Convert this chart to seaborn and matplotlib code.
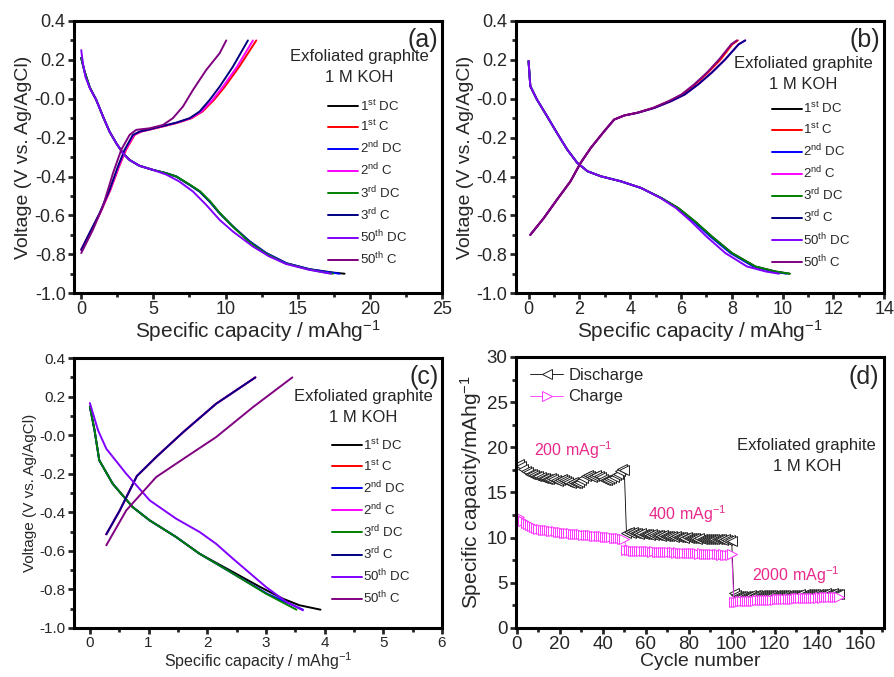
import numpy as np
import pandas as pd
import matplotlib
matplotlib.use("Agg")
import matplotlib.pyplot as plt
import seaborn as sns
from matplotlib.ticker import AutoMinorLocator

# ---- datos panel (a) ----
a_dc1_x = [0, 0.23, 0.58, 1.04, 1.5, 1.96, 2.43, 2.89, 3.35, 4.04, 4.97, 5.89, 6.58, 7.51, 8.2, 8.9, 9.59, 10.51, 11.67, 12.82, 14.21, 15.83, 17.44, 18.25]
a_dc1_y = [0.21, 0.14, 0.06, -0.006, -0.09, -0.169, -0.229, -0.28, -0.315, -0.345, -0.366, -0.383, -0.40, -0.443, -0.477, -0.529, -0.589, -0.657, -0.734, -0.794, -0.846, -0.877, -0.894, -0.90]
a_dc2_x = [0, 0.23, 0.58, 1.04, 1.5, 1.96, 2.43, 2.89, 3.35, 4.04, 4.97, 5.89, 6.58, 7.51, 8.2, 8.9, 9.59, 10.51, 11.67, 12.82, 14.21, 15.83, 17.3, 17.9]
a_dc3_x = [0, 0.23, 0.58, 1.04, 1.5, 1.96, 2.43, 2.89, 3.35, 4.04, 4.97, 5.89, 6.6, 7.55, 8.25, 8.95, 9.62, 10.5, 11.6, 12.75, 14.1, 15.7, 16.9, 17.45]
a_dc50_x = [0, 0.12, 0.3, 0.62, 1.04, 1.5, 1.96, 2.43, 2.89, 3.35, 4.04, 4.97, 5.89, 6.8, 7.74, 8.66, 9.59, 10.51, 11.9, 13.0, 14.2, 15.8, 17.3]
a_dc50_y = [0.25, 0.18, 0.11, 0.05, -0.006, -0.09, -0.169, -0.229, -0.28, -0.315, -0.345, -0.366, -0.39, -0.426, -0.477, -0.546, -0.623, -0.683, -0.76, -0.81, -0.85, -0.88, -0.90]
a_c_y = [-0.777, -0.69, -0.589, -0.469, -0.349, -0.263, -0.186, -0.169, -0.157, -0.14, -0.123, -0.10, -0.066, -0.006, 0.062, 0.165, 0.30]
a_c1_x = [0, 0.6, 1.3, 2.02, 2.62, 3.1, 3.7, 4.15, 4.85, 5.8, 6.7, 7.65, 8.4, 9.2, 9.95, 10.95, 12.13]
a_c2_x = [0, 0.6, 1.3, 2.0, 2.6, 3.07, 3.66, 4.12, 4.8, 5.75, 6.65, 7.6, 8.33, 9.1, 9.82, 10.8, 11.9]
a_c3_x = [0, 0.58, 1.27, 1.96, 2.54, 3.0, 3.58, 4.04, 4.74, 5.66, 6.58, 7.51, 8.2, 8.9, 9.59, 10.51, 11.55]
a_c50_x = [0, 0.81, 1.5, 2.2, 2.77, 3.35, 3.81, 4.74, 5.66, 6.35, 7.05, 7.74, 8.66, 9.59, 10.05]
a_c50_y = [-0.794, -0.674, -0.554, -0.383, -0.263, -0.186, -0.16, -0.152, -0.135, -0.10, -0.04, 0.045, 0.148, 0.234, 0.30]

# ---- datos panel (b) ----
b_dc_x = [0, 0.07, 0.33, 0.73, 1.12, 1.52, 1.92, 2.32, 2.85, 3.64, 4.43, 5.23, 5.89, 6.55, 7.21, 8.01, 8.93, 9.73, 10.28]
b_dc_y = [0.194, 0.065, -0.004, -0.09, -0.176, -0.261, -0.33, -0.373, -0.399, -0.425, -0.459, -0.511, -0.562, -0.631, -0.708, -0.794, -0.863, -0.889, -0.90]
b_dc2_x = [0, 0.07, 0.33, 0.73, 1.12, 1.52, 1.92, 2.32, 2.85, 3.64, 4.43, 5.23, 5.87, 6.5, 7.15, 7.95, 8.85, 9.65, 10.15]
b_dc50_x = [0, 0.07, 0.33, 0.73, 1.12, 1.52, 1.92, 2.32, 2.85, 3.64, 4.43, 5.2, 5.8, 6.4, 7.0, 7.75, 8.6, 9.35, 9.86]
b_c_x = [0.07, 0.6, 1.12, 1.65, 2.05, 2.45, 2.98, 3.37, 3.77, 4.3, 4.96, 5.62, 6.15, 6.68, 7.21, 7.74, 8.27, 8.53]
b_c_y = [-0.70, -0.614, -0.519, -0.425, -0.33, -0.253, -0.167, -0.107, -0.086, -0.072, -0.047, -0.012, 0.022, 0.074, 0.134, 0.202, 0.28, 0.30]
b_c1_x = [0.07, 0.6, 1.12, 1.65, 2.05, 2.45, 2.98, 3.37, 3.77, 4.28, 4.92, 5.55, 6.06, 6.56, 7.06, 7.56, 8.02, 8.24]
b_c50_x = [0.07, 0.6, 1.12, 1.65, 2.05, 2.45, 2.98, 3.37, 3.77, 4.28, 4.9, 5.52, 6.02, 6.52, 7.02, 7.5, 7.98, 8.2]

# ---- datos panel (c) ----
c_dc_x = [0, 0.08, 0.16, 0.39, 0.73, 1.02, 1.47, 1.87, 2.44, 3.0, 3.52]
c_dc_y = [0.149, 0.025, -0.13, -0.252, -0.373, -0.442, -0.528, -0.615, -0.718, -0.822, -0.905]
c_dc1_x = [0, 0.08, 0.16, 0.39, 0.73, 1.02, 1.47, 1.87, 2.44, 2.9, 3.29, 3.57, 3.93]
c_dc1_y = [0.149, 0.025, -0.13, -0.252, -0.373, -0.442, -0.528, -0.615, -0.71, -0.787, -0.848, -0.882, -0.905]
c_dc2_x = [0, 0.08, 0.16, 0.39, 0.73, 1.02, 1.47, 1.87, 2.44, 3.02, 3.63]
c_dc50_x = [0, 0.14, 0.28, 0.62, 1.02, 1.47, 1.87, 2.15, 2.44, 3.0, 3.35, 3.63]
c_dc50_y = [0.167, 0.025, -0.07, -0.2, -0.338, -0.433, -0.502, -0.563, -0.641, -0.787, -0.865, -0.908]
c_c_x = [0.28, 0.51, 0.8, 1.13, 1.59, 2.15, 2.82]
c_c_y = [-0.514, -0.39, -0.212, -0.113, 0.016, 0.163, 0.30]
c_c50_x = [0.28, 0.62, 1.13, 1.64, 2.15, 2.78, 3.45]
c_c50_y = [-0.571, -0.39, -0.217, -0.113, -0.01, 0.146, 0.30]

# ---- datos panel (d) ----
cycles = list(range(1, 151))
discharge = [
    18.2, 17.9, 17.6, 17.4, 17.3, 17.1, 17.0, 16.9, 16.8, 16.8,
    16.7, 16.6, 16.6, 16.5, 16.5, 16.6, 16.5, 16.4, 16.3, 16.4,
    16.5, 16.4, 16.3, 16.2, 16.1, 16.2, 16.1, 16.0, 16.2, 16.4,
    16.6, 16.8, 16.9, 16.8, 16.7, 16.8, 16.9, 16.8, 16.7, 16.5,
    16.4, 16.4, 16.5, 16.6, 16.7, 16.9, 17.1, 17.4, 17.6, 17.5,
    10.5, 10.6, 10.5, 10.6, 10.5, 10.5, 10.4, 10.5, 10.4, 10.4,
    10.4, 10.3, 10.4, 10.3, 10.3, 10.3, 10.2, 10.3, 10.2, 10.2,
    10.2, 10.2, 10.1, 10.2, 10.1, 10.1, 10.1, 10.0, 10.1, 10.0,
    10.0, 10.0, 10.0, 9.9, 10.0, 9.9, 9.9, 9.9, 9.9, 9.8,
    9.9, 9.8, 9.8, 9.8, 9.8, 9.7, 9.8, 9.7, 9.7, 9.6,
    3.9, 3.6, 3.5, 3.5, 3.5, 3.5, 3.5, 3.5, 3.6, 3.5,
    3.6, 3.6, 3.6, 3.6, 3.6, 3.6, 3.6, 3.6, 3.7, 3.6,
    3.7, 3.7, 3.7, 3.7, 3.7, 3.7, 3.7, 3.7, 3.7, 3.7,
    3.7, 3.8, 3.7, 3.8, 3.8, 3.8, 3.8, 3.8, 3.8, 3.8,
    3.8, 3.8, 3.8, 3.9, 3.8, 3.8, 3.9, 3.8, 3.8, 3.8,
]
charge = [
    12.3, 12.0, 11.8, 11.6, 11.5, 11.4, 11.3, 11.2, 11.1, 11.0,
    11.0, 10.9, 10.9, 10.8, 10.8, 10.7, 10.7, 10.7, 10.6, 10.6,
    10.6, 10.5, 10.5, 10.5, 10.5, 10.4, 10.4, 10.4, 10.4, 10.4,
    10.3, 10.3, 10.3, 10.3, 10.3, 10.2, 10.2, 10.2, 10.2, 10.2,
    10.1, 10.1, 10.1, 10.1, 10.0, 10.0, 10.0, 10.0, 9.9, 9.9,
    8.6, 8.6, 8.6, 8.5, 8.5, 8.5, 8.5, 8.5, 8.5, 8.5,
    8.5, 8.5, 8.4, 8.5, 8.4, 8.4, 8.4, 8.4, 8.4, 8.4,
    8.4, 8.4, 8.4, 8.3, 8.4, 8.3, 8.3, 8.3, 8.3, 8.3,
    8.3, 8.3, 8.3, 8.3, 8.2, 8.3, 8.2, 8.2, 8.2, 8.2,
    8.2, 8.2, 8.2, 8.2, 8.1, 8.2, 8.1, 8.1, 8.1, 8.2,
    2.9, 2.9, 2.9, 3.0, 3.0, 3.0, 3.0, 3.0, 3.0, 3.0,
    3.0, 3.1, 3.1, 3.1, 3.1, 3.1, 3.1, 3.1, 3.1, 3.1,
    3.2, 3.2, 3.2, 3.2, 3.2, 3.2, 3.2, 3.2, 3.2, 3.3,
    3.3, 3.3, 3.3, 3.3, 3.3, 3.3, 3.3, 3.3, 3.3, 3.3,
    3.4, 3.3, 3.4, 3.4, 3.4, 3.4, 3.4, 3.4, 3.4, 3.4,
]

labels = [r'1$^{st}$ DC', r'1$^{st}$ C', r'2$^{nd}$ DC', r'2$^{nd}$ C',
          r'3$^{rd}$ DC', r'3$^{rd}$ C', r'50$^{th}$ DC', r'50$^{th}$ C']
colores = ['#000000', '#ff0000', '#0000ff', '#ff00ff', '#008000', '#000080', '#8000ff', '#800080']

# Configuración de estilo
sns.set_style("white")
plt.rcParams.update({
    'font.family': ['Liberation Sans', 'DejaVu Sans'],
    'mathtext.default': 'regular',
    'axes.unicode_minus': False,
    'axes.linewidth': 2.2,
})

fig = plt.figure(figsize=(8.94, 6.77), dpi=100)
ax_a = fig.add_axes([0.0828, 0.567, 0.4116, 0.402])
ax_b = fig.add_axes([0.577, 0.567, 0.412, 0.402])
ax_c = fig.add_axes([0.0828, 0.0724, 0.4116, 0.3986])
ax_d = fig.add_axes([0.577, 0.0724, 0.412, 0.4003])


def estilo_ejes(ax, tick_fs):
    for s in ['top', 'right', 'bottom', 'left']:
        ax.spines[s].set_linewidth(2.2)
        ax.spines[s].set_color('black')
    ax.xaxis.set_minor_locator(AutoMinorLocator(2))
    ax.yaxis.set_minor_locator(AutoMinorLocator(2))
    ax.tick_params(which='major', direction='out', length=4, width=2, labelsize=tick_fs,
                   top=False, right=False, bottom=True, left=True, pad=2)
    ax.tick_params(which='minor', direction='out', length=3, width=2,
                   top=False, right=False, bottom=True, left=True)


def panel_gcd(ax, curvas, xlim, xticks, letra, tick_fs, lab_fs, xlab_fs, txt_xy, leg_xy):
    for (x, y), lab, col in zip(curvas, labels, colores):
        sns.lineplot(x=x, y=y, ax=ax, color=col, lw=1.4, sort=False, label=lab, estimator=None)
    ax.set_xlim(*xlim)
    ax.set_ylim(-1.0, 0.4)
    ax.set_xticks(xticks)
    ax.set_yticks(np.arange(-1.0, 0.41, 0.2))
    ax.set_yticklabels([f'{v:.1f}' for v in np.arange(-1.0, 0.41, 0.2)])
    estilo_ejes(ax, tick_fs)
    ax.set_ylabel('Voltage (V vs. Ag/AgCl)', fontsize=lab_fs, labelpad=2)
    ax.set_xlabel('Specific capacity / mAhg$^{-1}$', fontsize=xlab_fs, labelpad=0)
    ax.text(0.99, 0.975, letra, transform=ax.transAxes, ha='right', va='top', fontsize=18)
    tx, ty = txt_xy
    ax.text(tx, ty, 'Exfoliated graphite', transform=ax.transAxes, ha='center', va='center', fontsize=12)
    ax.text(tx, ty - 0.075, '1 M KOH', transform=ax.transAxes, ha='center', va='center', fontsize=12)
    ax.legend(loc='upper left', bbox_to_anchor=leg_xy, frameon=False, fontsize=9.5,
              handlelength=2.3, handletextpad=0.1, labelspacing=0.42, borderaxespad=0, borderpad=0)


curvas_a = [(a_dc1_x, a_dc1_y), (a_c1_x, a_c_y), (a_dc2_x, a_dc1_y), (a_c2_x, a_c_y),
            (a_dc3_x, a_dc1_y), (a_c3_x, a_c_y), (a_dc50_x, a_dc50_y), (a_c50_x, a_c50_y)]
panel_gcd(ax_a, curvas_a, (-0.5, 25), [0, 5, 10, 15, 20, 25], '(a)', 13, 14, 15,
          (0.775, 0.868), (0.69, 0.715))

curvas_b = [(b_dc_x, b_dc_y), (b_c1_x, b_c_y), (b_dc2_x, b_dc_y), (b_c_x, b_c_y),
            (b_dc_x, b_dc_y), (b_c_x, b_c_y), (b_dc50_x, b_dc_y), (b_c50_x, b_c_y)]
panel_gcd(ax_b, curvas_b, (-0.5, 14), [0, 2, 4, 6, 8, 10, 12, 14], '(b)', 13, 14, 15,
          (0.78, 0.843), (0.695, 0.705))

curvas_c = [(c_dc1_x, c_dc1_y), (c_c_x, c_c_y), (c_dc2_x, c_dc_y), (c_c_x, c_c_y),
            (c_dc_x, c_dc_y), (c_c_x, c_c_y), (c_dc50_x, c_dc50_y), (c_c50_x, c_c50_y)]
panel_gcd(ax_c, curvas_c, (-0.27, 6), [0, 1, 2, 3, 4, 5, 6], '(c)', 11, 11, 11.5,
          (0.785, 0.856), (0.70, 0.705))

# ---- panel (d): ciclado ----
df = pd.DataFrame({'Ciclo': cycles, 'Descarga': discharge, 'Carga': charge})
sns.lineplot(data=df, x='Ciclo', y='Descarga', ax=ax_d, color='black', lw=0.6,
             marker='<', markersize=7.5, markerfacecolor='white', markeredgecolor='#222222',
             markeredgewidth=0.7, label='Discharge')
sns.lineplot(data=df, x='Ciclo', y='Carga', ax=ax_d, color='#ff33ff', lw=0.6,
             marker='>', markersize=7.5, markerfacecolor='white', markeredgecolor='#ff33ff',
             markeredgewidth=0.7, label='Charge')
ax_d.set_xlim(-0.5, 171)
ax_d.set_ylim(0, 30)
ax_d.set_xticks(range(0, 161, 20))
ax_d.set_yticks(range(0, 31, 5))
estilo_ejes(ax_d, 13.5)
ax_d.set_xlabel('Cycle number', fontsize=14, labelpad=0)
ax_d.set_ylabel('Specific capacity/mAhg$^{-1}$', fontsize=15, labelpad=2)
ax_d.legend(loc='upper left', bbox_to_anchor=(0.02, 0.985), frameon=False, fontsize=12,
            handlelength=2.0, handletextpad=0.3, labelspacing=0.4, borderaxespad=0)
ax_d.text(0.985, 0.97, '(d)', transform=ax_d.transAxes, ha='right', va='top', fontsize=18)
ax_d.text(0.79, 0.675, 'Exfoliated graphite', transform=ax_d.transAxes, ha='center', va='center', fontsize=12)
ax_d.text(0.79, 0.595, '1 M KOH', transform=ax_d.transAxes, ha='center', va='center', fontsize=12)
rosa = '#e8288a'
ax_d.text(0.05, 0.655, '200 mAg$^{-1}$', transform=ax_d.transAxes, color=rosa, fontsize=11.5, va='center')
ax_d.text(0.36, 0.42, '400 mAg$^{-1}$', transform=ax_d.transAxes, color=rosa, fontsize=11.5, va='center')
ax_d.text(0.64, 0.196, '2000 mAg$^{-1}$', transform=ax_d.transAxes, color=rosa, fontsize=11.5, va='center')

fig.savefig('out.png', dpi=100)
